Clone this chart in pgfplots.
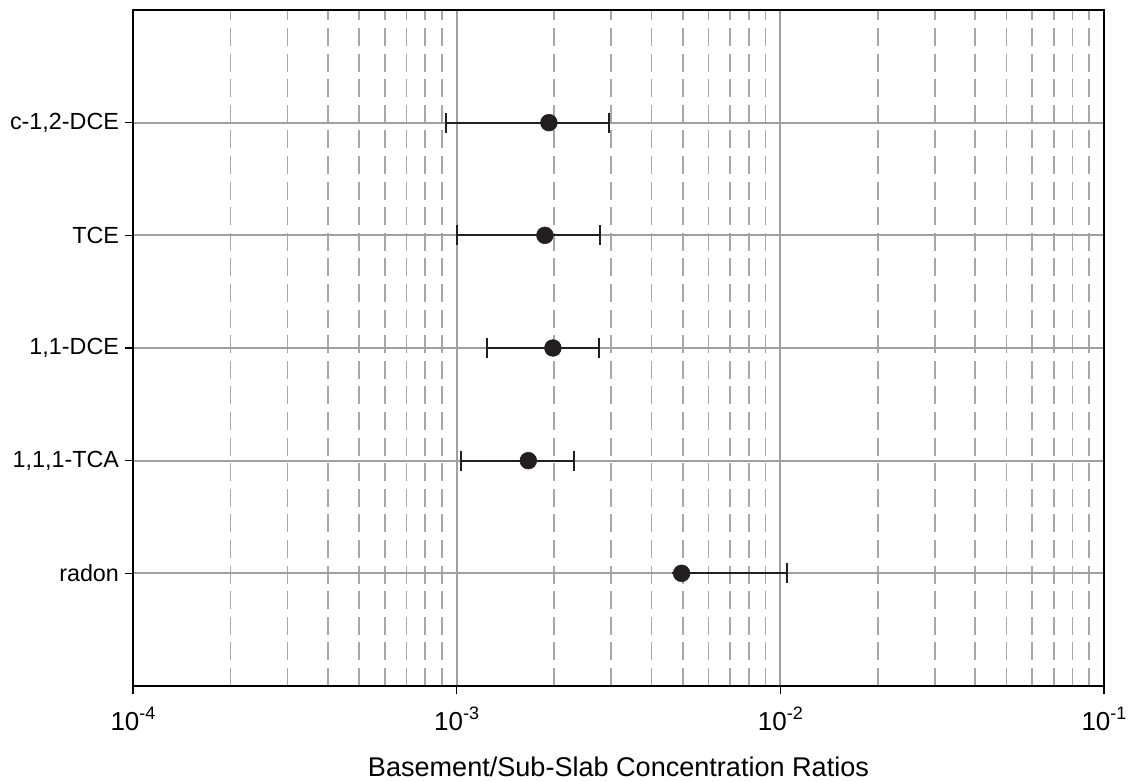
\documentclass[border=0pt]{standalone}
\usepackage{pgfplots}
\pgfplotsset{compat=1.18}
\usepackage{fontspec}
\setmainfont{Liberation Sans}
\definecolor{mk}{HTML}{231F20}
\definecolor{gmaj}{HTML}{A0A0A0}
\definecolor{gmin}{HTML}{A8A8A8}
\newcommand{\tl}[1]{10\raisebox{0.42em}{\fontsize{13.5}{14}\selectfont #1}}
\begin{document}
\begin{tikzpicture}
\path (-99.75pt,-68.25pt) rectangle (750pt,514.5pt);
\begin{axis}[
  at={(0,0)}, anchor=south west,
  width=728.25pt, height=507pt, scale only axis,
  xmode=log, xmin=1e-4, xmax=1e-1,
  ymin=0, ymax=6,
  xtick={1e-4,1e-3,1e-2,1e-1},
  xticklabels={\tl{-4},\tl{-3},\tl{-2},\tl{-1}},
  ytick={1,2,3,4,5},
  yticklabels={radon,{1,1,1-TCA},{1,1-DCE},TCE,{c-1,2-DCE}},
  xtick pos=bottom, ytick pos=left,
  tick align=outside,
  major tick length=6pt,
  minor tick length=0pt,
  minor x tick num=8,
  xminorgrids=true, xmajorgrids=true, ymajorgrids=true,
  major grid style={gmaj, line width=1.3pt, solid},
  minor grid style={gmin, line width=1.3pt, dash pattern=on 13.5pt off 5.7pt},
  axis line style={black, line width=1.2pt},
  every tick/.style={black, line width=1.2pt},
  yticklabel style={font=\fontsize{17.5}{20}\selectfont, xshift=-1pt},
  xticklabel style={font=\fontsize{19.5}{22}\selectfont, yshift=-6pt},
  xlabel={Basement/Sub-Slab Concentration Ratios},
  xlabel style={font=\fontsize{20.3}{23}\selectfont, yshift=-13pt},
  clip=false,
]
\addplot[mk, only marks, mark=*, mark size=6.3pt,
  mark options={fill=mk, draw=mk},
  error bars/.cd, x dir=both, x explicit,
  error bar style={mk, line width=1.4pt},
  error mark options={rotate=90, mark size=7.5pt, line width=1.4pt, mk}]
  table[x=x, y=y, x error plus=ep, x error minus=em] {
  x        y  ep        em
  1.928e-3 5  1.027e-3  1.003e-3
  1.874e-3 4  0.898e-3  0.869e-3
  1.984e-3 3  0.762e-3  0.740e-3
  1.665e-3 2  0.644e-3  0.636e-3
  4.955e-3 1  5.525e-3  0
};
\end{axis}
\end{tikzpicture}
\end{document}
